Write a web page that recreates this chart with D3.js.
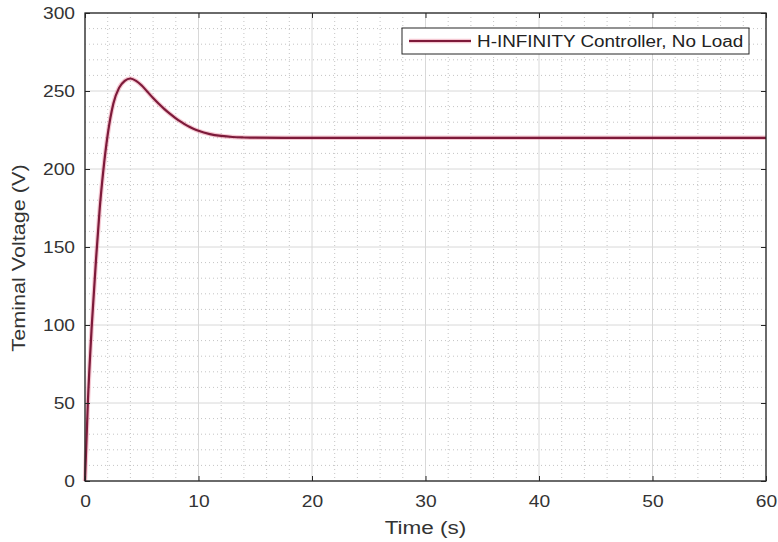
<!DOCTYPE html>
<html>
<head>
<meta charset="utf-8">
<script src="https://cdn.jsdelivr.net/npm/d3@7"></script>
<style>
  html, body { margin: 0; padding: 0; background: #ffffff; }
  svg { display: block; }
  text { font-family: "Liberation Sans", Arial, Helvetica, sans-serif; }
</style>
</head>
<body>
<div id="chart"></div>
<script>
// ---- Data ----
const timeS    = [0, 0.25, 0.6, 1.0, 1.3, 1.6, 2.0, 2.5, 3.0, 3.5, 4.0, 4.5, 5.0, 5.5, 6.0, 6.5, 7.0, 7.5, 8.0, 8.5, 9.0, 9.5, 10.0, 11.0, 12.0, 13.0, 14.0, 15.0, 20, 30, 40, 50, 60];
const voltageV = [0, 50, 100, 145, 175, 198, 222, 242, 252, 256.5, 258, 256.5, 253.5, 249.5, 245.5, 241.8, 238.4, 235.3, 232.5, 230, 227.8, 226, 224.5, 222.4, 221.2, 220.5, 220.2, 220.05, 220, 220, 220, 220, 220];
const xTicks = [0, 10, 20, 30, 40, 50, 60];
const yTicks = [0, 50, 100, 150, 200, 250, 300];
const xMinor = d3.range(0, 60.001, 2);
const yMinor = d3.range(0, 300.001, 10);
const seriesName = "H-INFINITY Controller, No Load";
const xLabel = "Time (s)";
const yLabel = "Teminal Voltage (V)";

// ---- Layout ----
const W = 778, H = 542;
const m = { left: 85, top: 13, right: 12, bottom: 61 };
const iw = W - m.left - m.right, ih = H - m.top - m.bottom;

const svg = d3.select("#chart").append("svg").attr("width", W).attr("height", H);
const g = svg.append("g").attr("transform", `translate(${m.left},${m.top})`);

const x = d3.scaleLinear().domain([0, 60]).range([0, iw]);
const y = d3.scaleLinear().domain([0, 300]).range([ih, 0]);

// stretch text horizontally (reference glyphs are wider)
function stretch(sel, f) {
  sel.each(function () {
    const L = this.getComputedTextLength();
    d3.select(this).attr("textLength", L * f).attr("lengthAdjust", "spacingAndGlyphs");
  });
}

// minor grid (dotted)
g.append("g").selectAll("line").data(xMinor.filter(v => !xTicks.includes(v))).join("line")
  .attr("x1", d => x(d)).attr("x2", d => x(d)).attr("y1", 0).attr("y2", ih)
  .attr("stroke", "#c4c4c4").attr("stroke-width", 1).attr("stroke-dasharray", "1,3");
g.append("g").selectAll("line").data(yMinor.filter(v => !yTicks.includes(v))).join("line")
  .attr("y1", d => y(d)).attr("y2", d => y(d)).attr("x1", 0).attr("x2", iw)
  .attr("stroke", "#c4c4c4").attr("stroke-width", 1).attr("stroke-dasharray", "1,3");
// major grid (solid light)
g.append("g").selectAll("line").data(xTicks).join("line")
  .attr("x1", d => x(d)).attr("x2", d => x(d)).attr("y1", 0).attr("y2", ih)
  .attr("stroke", "#d8d8d8").attr("stroke-width", 1);
g.append("g").selectAll("line").data(yTicks).join("line")
  .attr("y1", d => y(d)).attr("y2", d => y(d)).attr("x1", 0).attr("x2", iw)
  .attr("stroke", "#d8d8d8").attr("stroke-width", 1);

// curve
const line = d3.line().x((d, i) => x(timeS[i])).y(d => y(d)).curve(d3.curveMonotoneX);
g.append("path").datum(voltageV).attr("d", line)
  .attr("fill", "none").attr("stroke", "#e2607d").attr("stroke-opacity", 0.35).attr("stroke-width", 4.5);
g.append("path").datum(voltageV).attr("d", line)
  .attr("fill", "none").attr("stroke", "#7d1a3a").attr("stroke-width", 2.2);

// axes
const axisColor = "#262626";
function styleAxis(sel, showText) {
  sel.select(".domain").remove();
  sel.selectAll(".tick line").attr("stroke", axisColor).attr("stroke-width", 1);
  if (!showText) { sel.selectAll(".tick text").remove(); return; }
  sel.selectAll(".tick text").attr("fill", "#333333").style("font-size", "16px").call(stretch, 1.2);
}
g.append("g").attr("transform", `translate(0,${ih})`)
  .call(d3.axisBottom(x).tickValues(xTicks).tickSize(-5).tickPadding(15).tickFormat(d3.format("d")))
  .call(s => styleAxis(s, true));
g.append("g")
  .call(d3.axisTop(x).tickValues(xTicks).tickSize(-5))
  .call(s => styleAxis(s, false));
g.append("g")
  .call(d3.axisLeft(y).tickValues(yTicks).tickSize(-5).tickPadding(10).tickFormat(d3.format("d")))
  .call(s => styleAxis(s, true));
g.append("g").attr("transform", `translate(${iw},0)`)
  .call(d3.axisRight(y).tickValues(yTicks).tickSize(-5))
  .call(s => styleAxis(s, false));

// box
g.append("rect").attr("x", 0).attr("y", 0).attr("width", iw).attr("height", ih)
  .attr("fill", "none").attr("stroke", axisColor).attr("stroke-width", 1.3);

// axis titles
svg.append("text").attr("x", m.left + iw / 2).attr("y", 534)
  .attr("text-anchor", "middle").attr("fill", "#333333").style("font-size", "18px").text(xLabel)
  .call(stretch, 1.25);
svg.append("text").attr("transform", `translate(25,${m.top + ih / 2 + 11}) rotate(-90)`)
  .attr("text-anchor", "middle").attr("fill", "#333333").style("font-size", "18px").text(yLabel)
  .call(stretch, 1.2);

// legend
const lg = svg.append("g").attr("transform", "translate(402,28)");
lg.append("rect").attr("width", 347).attr("height", 26)
  .attr("fill", "#ffffff").attr("stroke", axisColor).attr("stroke-width", 1);
lg.append("line").attr("x1", 7).attr("x2", 69).attr("y1", 13).attr("y2", 13)
  .attr("stroke", "#e2607d").attr("stroke-opacity", 0.35).attr("stroke-width", 4.5);
lg.append("line").attr("x1", 7).attr("x2", 69).attr("y1", 13).attr("y2", 13)
  .attr("stroke", "#7d1a3a").attr("stroke-width", 2.2);
lg.append("text").attr("x", 75).attr("y", 19).attr("fill", "#222222")
  .style("font-size", "16px").text(seriesName)
  .call(stretch, 1.18);
</script>
</body>
</html>
